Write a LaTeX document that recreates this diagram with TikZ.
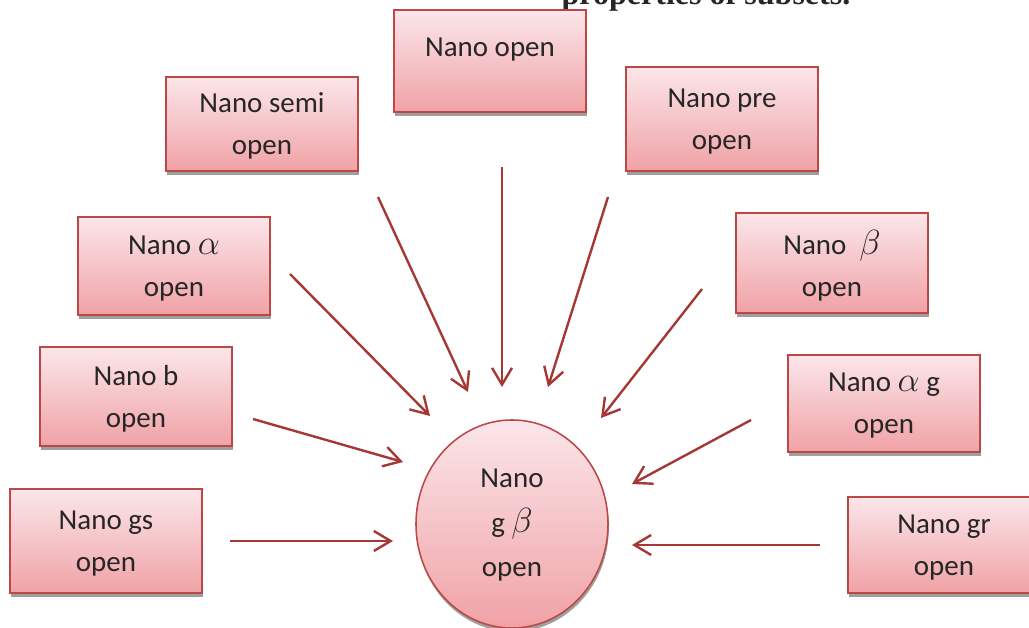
\documentclass[tikz,border=0pt]{standalone}
\usepackage{fontspec}
\setmainfont{Carlito}
\newfontfamily\capfont{Liberation Serif}
\usetikzlibrary{arrows.meta,shapes.geometric,shadows}
\definecolor{boxline}{RGB}{185,72,70}
\definecolor{pinktop}{RGB}{251,230,234}
\definecolor{pinkbot}{RGB}{240,162,166}
\definecolor{arrowred}{RGB}{165,55,52}
\definecolor{textgray}{RGB}{38,38,38}
\newcommand{\nanofont}{\fontsize{20.6}{29.9}\selectfont}
\newcommand{\grk}[1]{{\fontsize{27}{29.9}\selectfont$#1$}}

\tikzset{
  nanobox/.style={draw=boxline, line width=1.1pt, top color=pinktop, bottom color=pinkbot,
    minimum width=4.8cm, align=center, text=textgray, font=\nanofont, inner sep=0pt,
    text depth=-0.25cm,
    drop shadow={shadow xshift=0.6pt, shadow yshift=-2.6pt, fill=gray!75, opacity=1}},
  nanoell/.style={nanobox, ellipse, minimum width=4.8cm, minimum height=5.2cm,
    font=\fontsize{20.6}{31.6}\selectfont, text depth=0.05cm},
  arr/.style={draw=arrowred, line width=1.7pt, -{Straight Barb[length=0.42cm,width=0.5cm]}}
}

\begin{document}
\begin{tikzpicture}[x={(0.025cm,0cm)},y={(0cm,-0.025cm)}]
\clip (0,0) rectangle (1029,628);

\node[anchor=base, font=\capfont\bfseries\fontsize{22.8}{26}\selectfont, text=black!85] (cap) at (706,5) {properties of subsets.};

% boxes round the centre
\node[nanobox, minimum height=2.55cm, text depth=0.7cm] (open) at (490,61) {Nano open};
\node[nanobox, minimum height=2.35cm] (semi) at (262,124) {Nano semi\\open};
\node[nanobox, minimum height=2.6cm] (pre) at (722,119) {Nano pre\\open};
\node[nanobox, minimum height=2.45cm] (alpha) at (174,266) {Nano \grk{\alpha}\\open};
\node[nanobox, minimum height=2.5cm] (beta) at (832,263) {Nano \ \grk{\beta}\\open};
\node[nanobox, minimum height=2.475cm] (b) at (136,396.5) {Nano b\\open};
\node[nanobox, minimum height=2.425cm] (alphag) at (884,403.5) {Nano \grk{\alpha} g\\open};
\node[nanobox, minimum height=2.6cm] (gs) at (106,541) {Nano gs\\open};
\node[nanobox, minimum height=2.4cm] (gr) at (944,545) {Nano gr\\open};

\node[nanoell] (gbeta) at (512,524) {Nano\\g \grk{\beta}\\open};

% arrow ends
\coordinate (semiA) at (378,197);  \coordinate (semiB) at (468,392);
\coordinate (openA) at (502,167);  \coordinate (openB) at (502,387);
\coordinate (preA) at (608,197);   \coordinate (preB) at (548,387);
\coordinate (alphaA) at (290,274); \coordinate (alphaB) at (430,416);
\coordinate (betaA) at (702,289);  \coordinate (betaB) at (601,418);
\coordinate (bA) at (253,419);     \coordinate (bB) at (403,462);
\coordinate (alphagA) at (751,420); \coordinate (alphagB) at (632,484);
\coordinate (gsA) at (230,541);    \coordinate (gsB) at (393,541);
\coordinate (grA) at (820,545);    \coordinate (grB) at (632,545);

\draw[arr] (semiA) -- (semiB);
\draw[arr] (openA) -- (openB);
\draw[arr] (preA) -- (preB);
\draw[arr] (alphaA) -- (alphaB);
\draw[arr] (betaA) -- (betaB);
\draw[arr] (bA) -- (bB);
\draw[arr] (alphagA) -- (alphagB);
\draw[arr] (gsA) -- (gsB);
\draw[arr] (grA) -- (grB);
\end{tikzpicture}
\end{document}
